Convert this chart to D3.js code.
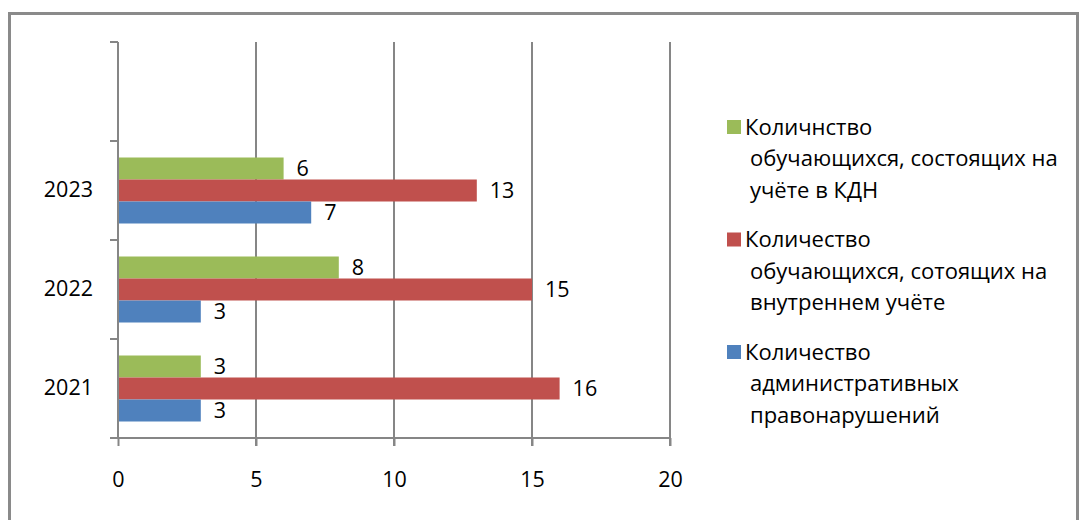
<!DOCTYPE html>
<html><head><meta charset="utf-8">
<script src="https://cdn.jsdelivr.net/npm/d3@7"></script>
<style>body{margin:0;background:#fff}svg{display:block}text{font-family:"Open Sans",sans-serif;fill:#000}</style>
</head><body>
<svg id="c" width="1081" height="520"></svg>
<script>
const categories = ["2021", "2022", "2023", ""];
const seriesNames = [
  ["Количнство", "обучающихся, состоящих на", "учёте в КДН"],
  ["Количество", "обучающихся, сотоящих на", "внутреннем учёте"],
  ["Количество", "административных", "правонарушений"]
];
const seriesColors = ["#9BBB59", "#C0504D", "#4F81BD"];
const kdn = [3, 8, 6];
const internal = [16, 15, 13];
const admin = [3, 3, 7];
const xTicks = [0, 5, 10, 15, 20];

const series = [kdn, internal, admin];
const svg = d3.select("#c");
const grid = "#868686";
const fs = 21.5;

svg.append("rect").attr("x", 9.5).attr("y", 13.5).attr("width", 1068).attr("height", 520)
  .attr("fill", "none").attr("stroke", "#8a8a8a").attr("stroke-width", 3);

const x = d3.scaleLinear().domain([0, 20]).range([118, 670]);
const y = d3.scaleBand().domain(categories.slice().reverse()).range([42, 438]);
const inner = d3.scaleBand().domain([0, 1, 2]).range([0, y.bandwidth()]).paddingOuter(0.75);

// gridlines
svg.append("g").selectAll("line").data(xTicks.slice(1)).join("line")
  .attr("x1", d => x(d)).attr("x2", d => x(d)).attr("y1", 42).attr("y2", 446)
  .attr("stroke", grid).attr("stroke-width", 2);

// bars
categories.forEach((c, ci) => {
  if (ci >= 3) return;
  series.forEach((s, si) => {
    const v = s[ci];
    const yy = y(c) + inner(si);
    svg.append("rect").attr("x", x(0)).attr("y", yy).attr("width", x(v) - x(0))
      .attr("height", inner.bandwidth()).attr("fill", seriesColors[si]);
    svg.append("text").attr("x", x(v) + 13).attr("y", yy + inner.bandwidth() / 2)
      .attr("dy", "0.36em").attr("font-size", fs).text(v);
  });
});

// x axis
const xa = svg.append("g").attr("transform", "translate(0,438)")
  .call(d3.axisBottom(x).tickValues(xTicks).tickSize(8).tickPadding(26).tickSizeOuter(0));
xa.select(".domain").attr("stroke", grid).attr("stroke-width", 2).attr("d", "M110,0H670");
xa.selectAll(".tick line").attr("stroke", grid).attr("stroke-width", 2);
xa.selectAll(".tick text").attr("font-size", fs).attr("font-family", "Open Sans").attr("fill", "#000");

// y axis
const ya = svg.append("g").attr("transform", "translate(118,0)")
  .call(d3.axisLeft(y).tickSize(0).tickPadding(25));
ya.select(".domain").attr("stroke", grid).attr("stroke-width", 2).attr("d", "M0,42V438");
ya.selectAll(".tick text").attr("font-size", fs).attr("font-family", "Open Sans").attr("fill", "#000");
const yEdges = categories.map(c => y(c)).concat([438]);
svg.append("g").selectAll("line").data(yEdges).join("line")
  .attr("x1", 110).attr("x2", 118).attr("y1", d => d).attr("y2", d => d)
  .attr("stroke", grid).attr("stroke-width", 2);

// legend
const lg = svg.append("g");
seriesNames.forEach((lines, i) => {
  const top = 127 + i * 112.5;
  lg.append("rect").attr("x", 727).attr("y", top - 7).attr("width", 14).attr("height", 14).attr("fill", seriesColors[i]);
  lines.forEach((t, j) => {
    lg.append("text").attr("x", j === 0 ? 745 : 750).attr("y", top + j * 31.5).attr("dy", "0.36em")
      .attr("font-size", 22).text(t);
  });
});
</script>
</body></html>
